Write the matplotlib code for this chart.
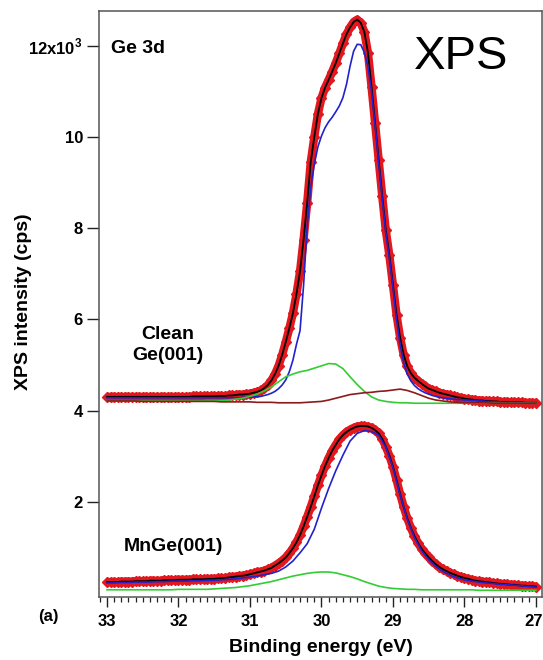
import numpy as np
import matplotlib
matplotlib.use("Agg")
import matplotlib.pyplot as plt
import matplotlib.transforms as mtransforms
from matplotlib.ticker import MultipleLocator, FixedLocator

plt.rcParams['font.family'] = ['Liberation Sans', 'DejaVu Sans']
plt.rcParams['mathtext.fontset'] = 'custom'
plt.rcParams['mathtext.rm'] = 'Liberation Sans'

# ---- data (binding energy in eV, intensity in 10^3 cps) ----
energy_fine = np.round(np.linspace(33.0, 27.0, 121), 2)    # 0.05 eV steps
energy_coarse = np.round(np.linspace(33.0, 27.0, 61), 2)   # 0.1 eV steps

clean_data = [
    4.30, 4.30, 4.30, 4.30, 4.30, 4.30, 4.30, 4.30, 4.30, 4.30,
    4.30, 4.30, 4.30, 4.30, 4.30, 4.30, 4.30, 4.30, 4.30, 4.30,
    4.30, 4.30, 4.30, 4.30, 4.31, 4.31, 4.31, 4.31, 4.31, 4.31,
    4.31, 4.32, 4.32, 4.32, 4.33, 4.33, 4.34, 4.35, 4.35, 4.36,
    4.37, 4.39, 4.41, 4.44, 4.49, 4.56, 4.66, 4.80, 4.98, 5.22,
    5.50, 5.80, 6.13, 6.55, 7.05, 7.75, 8.55, 9.45, 10.00, 10.50,
    10.85, 11.08, 11.25, 11.43, 11.62, 11.83, 12.05, 12.25, 12.40, 12.52,
    12.57, 12.50, 12.30, 11.85, 11.10, 10.30, 9.50, 8.70, 7.95, 7.40,
    6.75, 6.10, 5.60, 5.22, 4.97, 4.82, 4.72, 4.65, 4.59, 4.53,
    4.48, 4.45, 4.42, 4.39, 4.37, 4.35, 4.33, 4.31, 4.29, 4.28,
    4.26, 4.25, 4.24, 4.23, 4.22, 4.22, 4.21, 4.21, 4.20, 4.20,
    4.19, 4.19, 4.19, 4.18, 4.18, 4.18, 4.18, 4.17, 4.17, 4.17,
    4.17,
]
clean_bulk = [
    4.28, 4.28, 4.28, 4.28, 4.28, 4.28, 4.28, 4.28, 4.28, 4.28,
    4.28, 4.28, 4.28, 4.28, 4.28, 4.28, 4.28, 4.28, 4.28, 4.28,
    4.28, 4.28, 4.28, 4.28, 4.28, 4.28, 4.28, 4.28, 4.28, 4.28,
    4.28, 4.28, 4.28, 4.28, 4.28, 4.28, 4.28, 4.28, 4.29, 4.29,
    4.29, 4.30, 4.30, 4.31, 4.33, 4.35, 4.38, 4.42, 4.48, 4.56,
    4.67, 4.85, 5.10, 5.45, 5.75, 6.75, 8.05, 8.90, 9.40, 9.78,
    10.02, 10.20, 10.33, 10.43, 10.55, 10.68, 10.86, 11.15, 11.55, 11.88,
    12.03, 12.02, 11.85, 11.55, 11.00, 10.25, 9.45, 8.65, 7.90, 7.35,
    6.70, 6.00, 5.45, 5.05, 4.80, 4.65, 4.55, 4.48, 4.43, 4.39,
    4.36, 4.33, 4.31, 4.29, 4.28, 4.27, 4.26, 4.25, 4.24, 4.24,
    4.23, 4.23, 4.22, 4.22, 4.21, 4.21, 4.20, 4.20, 4.19, 4.19,
    4.19, 4.18, 4.18, 4.18, 4.17, 4.17, 4.17, 4.17, 4.16, 4.16,
    4.16,
]
clean_surface = [
    4.21, 4.21, 4.21, 4.21, 4.21, 4.21, 4.21, 4.21, 4.21, 4.21,
    4.21, 4.21, 4.21, 4.21, 4.22, 4.22, 4.22, 4.23, 4.25, 4.27,
    4.31, 4.36, 4.43, 4.52, 4.63, 4.74, 4.80, 4.85, 4.88, 4.93,
    4.98, 5.03, 5.02, 4.92, 4.74, 4.57, 4.42, 4.30, 4.23, 4.20,
    4.18, 4.17, 4.17, 4.16, 4.16, 4.16, 4.16, 4.16, 4.16, 4.16,
    4.16, 4.16, 4.16, 4.16, 4.16, 4.16, 4.16, 4.16, 4.16, 4.16,
    4.16,
]
clean_dimer = [
    4.21, 4.21, 4.21, 4.21, 4.21, 4.20, 4.20, 4.20, 4.20, 4.20,
    4.20, 4.20, 4.20, 4.20, 4.20, 4.20, 4.19, 4.19, 4.19, 4.19,
    4.19, 4.18, 4.18, 4.18, 4.17, 4.17, 4.17, 4.17, 4.18, 4.19,
    4.20, 4.23, 4.27, 4.31, 4.35, 4.37, 4.39, 4.40, 4.42, 4.43,
    4.45, 4.47, 4.44, 4.39, 4.33, 4.27, 4.23, 4.21, 4.19, 4.18,
    4.17, 4.17, 4.17, 4.17, 4.16, 4.16, 4.16, 4.16, 4.16, 4.16,
    4.16,
]

mnge_data = [
    0.24, 0.24, 0.24, 0.24, 0.25, 0.25, 0.25, 0.25, 0.26, 0.26,
    0.26, 0.26, 0.27, 0.27, 0.27, 0.27, 0.28, 0.28, 0.28, 0.28,
    0.29, 0.29, 0.29, 0.29, 0.30, 0.30, 0.30, 0.30, 0.31, 0.31,
    0.31, 0.32, 0.32, 0.33, 0.34, 0.35, 0.36, 0.37, 0.38, 0.39,
    0.41, 0.43, 0.45, 0.47, 0.49, 0.52, 0.55, 0.60, 0.65, 0.71,
    0.78, 0.87, 0.98, 1.11, 1.27, 1.46, 1.67, 1.89, 2.12, 2.36,
    2.58, 2.78, 2.96, 3.12, 3.25, 3.37, 3.46, 3.53, 3.58, 3.62,
    3.65, 3.66, 3.66, 3.65, 3.62, 3.57, 3.50, 3.38, 3.21, 3.01,
    2.77, 2.48, 2.17, 1.89, 1.64, 1.43, 1.25, 1.10, 0.97, 0.87,
    0.78, 0.70, 0.63, 0.57, 0.52, 0.48, 0.44, 0.41, 0.38, 0.35,
    0.33, 0.31, 0.29, 0.27, 0.26, 0.25, 0.24, 0.23, 0.22, 0.21,
    0.20, 0.20, 0.19, 0.18, 0.18, 0.17, 0.16, 0.16, 0.15, 0.15,
    0.14,
]
mnge_main = [
    0.22, 0.22, 0.23, 0.23, 0.24, 0.24, 0.24, 0.25, 0.25, 0.26,
    0.26, 0.26, 0.27, 0.27, 0.28, 0.28, 0.29, 0.30, 0.31, 0.33,
    0.35, 0.37, 0.40, 0.43, 0.48, 0.57, 0.70, 0.88, 1.08, 1.40,
    1.86, 2.29, 2.68, 3.02, 3.33, 3.50, 3.56, 3.54, 3.46, 3.20,
    2.75, 2.15, 1.62, 1.22, 0.93, 0.73, 0.58, 0.47, 0.39, 0.33,
    0.29, 0.26, 0.24, 0.22, 0.21, 0.19, 0.18, 0.17, 0.16, 0.14,
    0.13,
]
mnge_second = [
    0.07, 0.07, 0.07, 0.07, 0.07, 0.07, 0.07, 0.07, 0.07, 0.07,
    0.08, 0.08, 0.08, 0.08, 0.08, 0.09, 0.10, 0.11, 0.12, 0.14,
    0.16, 0.19, 0.22, 0.25, 0.29, 0.33, 0.37, 0.40, 0.43, 0.45,
    0.46, 0.46, 0.44, 0.40, 0.36, 0.31, 0.25, 0.20, 0.15, 0.12,
    0.10, 0.09, 0.08, 0.08, 0.07, 0.07, 0.07, 0.07, 0.07, 0.07,
    0.07, 0.07, 0.06, 0.06, 0.06, 0.06, 0.06, 0.06, 0.06, 0.06,
    0.06,
]

y_ticks = [2, 4, 6, 8, 10, 12]
y_tick_labels = ['2', '4', '6', '8', '10', r'12x10$^{\mathregular{3}}$']
x_ticks = [33, 32, 31, 30, 29, 28, 27]

# ---- styling ----
RED = '#e3171d'
BLUE = '#2222cc'
GREEN = '#33cc33'
BROWN = '#8b1a1a'
SPINE = '#555555'

fig = plt.figure(figsize=(5.43, 6.60), dpi=100)
ax = fig.add_axes([99 / 543, 1 - 597 / 660, 443 / 543, 586 / 660])

for xs, ys in [(energy_fine, clean_data), (energy_fine, mnge_data)]:
    ax.plot(xs, ys, color=RED, lw=6.0, solid_capstyle='butt', zorder=1)
    ax.plot(xs, ys, ls='none', marker='D', ms=5.6, color=RED, mec=RED, zorder=1.5)
    ax.plot(xs, ys, color='black', lw=1.3, zorder=2)

ax.plot(energy_fine, clean_bulk, color=BLUE, lw=1.2, zorder=3)
ax.plot(energy_coarse, clean_surface, color=GREEN, lw=1.2, zorder=4)
ax.plot(energy_coarse, clean_dimer, color=BROWN, lw=1.2, zorder=4)
ax.plot(energy_coarse, mnge_main, color=BLUE, lw=1.2, zorder=3)
ax.plot(energy_coarse, mnge_second, color=GREEN, lw=1.2, zorder=4)

ax.set_xlim(33.112, 26.915)
ax.set_ylim(-0.088, 12.76)

ax.xaxis.set_major_locator(FixedLocator(x_ticks))
ax.xaxis.set_minor_locator(MultipleLocator(0.1))
ax.set_xticklabels([str(t) for t in x_ticks])
ax.yaxis.set_major_locator(FixedLocator(y_ticks))
ax.set_yticklabels(y_tick_labels)

for sp in ax.spines.values():
    sp.set_color(SPINE)
    sp.set_linewidth(1.1)

ax.tick_params(axis='x', which='major', direction='out', length=7.5, width=1.0,
               color='#222222', pad=5, labelsize=12)
ax.tick_params(axis='x', which='minor', direction='out', length=3.8, width=0.9,
               color='#222222')
ax.tick_params(axis='y', which='major', direction='out', length=8.5, width=1.0,
               color='#222222', pad=3, labelsize=12)
for lab in ax.get_xticklabels() + ax.get_yticklabels():
    lab.set_fontweight('bold')

# keep the last x tick label ("27") inside the figure edge
last_lab = ax.get_xticklabels()[-1]
last_lab.set_transform(last_lab.get_transform() +
                       mtransforms.ScaledTranslation(-2.5 / 100, 0, fig.dpi_scale_trans))

ax.set_xlabel('Binding energy (eV)', fontsize=14, fontweight='bold', va='top')
ax.xaxis.set_label_coords((321 - 99) / 443, -(639 - 597) / 586)
ax.set_ylabel('XPS intensity (cps)', fontsize=14, fontweight='bold')
ax.yaxis.set_label_coords((32 - 99) / 443, (597 - 302) / 586)

ax.text(32.94, 11.93, 'Ge 3d', fontsize=14, fontweight='bold', va='center', ha='left')
ax.text(28.70, 11.75, 'XPS', fontsize=34, va='center', ha='left')
ax.text(32.145, 5.44, 'Clean\nGe(001)', fontsize=14, fontweight='bold',
        va='center', ha='center', multialignment='center', linespacing=1.35)
ax.text(32.07, 1.01, 'MnGe(001)', fontsize=14, fontweight='bold', va='center', ha='center')
fig.text(48 / 543, 1 - 617 / 660, '(a)', fontsize=12, fontweight='bold',
         va='center', ha='center')

fig.savefig('out.png', dpi=100)
